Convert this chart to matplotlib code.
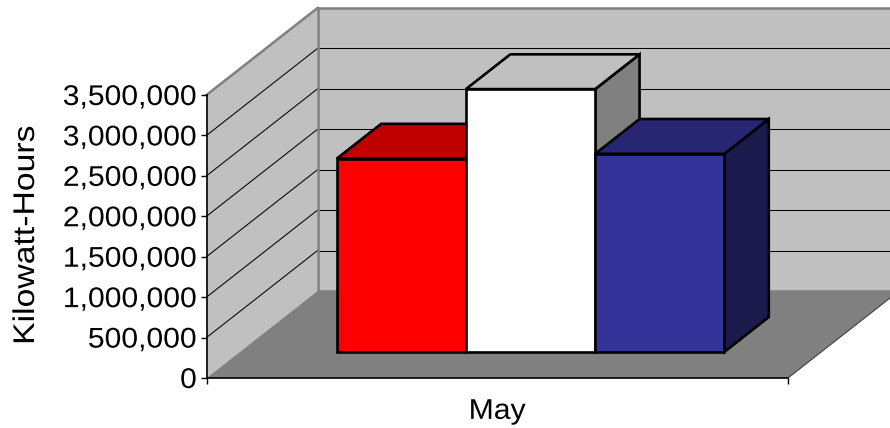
import matplotlib
matplotlib.use("Agg")
import matplotlib.pyplot as plt
from matplotlib.patches import Polygon
from matplotlib.patheffects import AbstractPathEffect
from matplotlib.ticker import FuncFormatter
from matplotlib.transforms import Affine2D

# Monthly consumption, one cluster of three columns
category = "May"
series_values = [2390000, 3250000, 2450000]
front_colors = ["#FF0000", "#FFFFFF", "#333399"]
top_colors = ["#BF0000", "#C0C0C0", "#262673"]
side_colors = ["#800000", "#808080", "#1A1A4D"]
value_ticks = [0, 500000, 1000000, 1500000, 2000000, 2500000, 3000000, 3500000]
value_label = "Kilowatt-Hours"

W, H = 890, 428
AX_L, AX_R, AX_T, AX_B = 206.5, 788.0, 95.0, 378.0
DEPTH_PX = (111.0, 87.0)
VMAX = value_ticks[-1]
GAP = 1.5
BAR_DEPTH = (0.3, 0.7)


class WideText(AbstractPathEffect):
    """Widen glyph runs along the baseline about a chosen anchor."""

    def __init__(self, factor, anchor):
        super().__init__()
        self.factor = factor
        self.anchor = anchor

    def draw_path(self, renderer, gc, tpath, affine, rgbFace=None):
        xs = tpath.vertices[:, 0]
        x0 = xs.min() + self.anchor * (xs.max() - xs.min())
        widen = Affine2D().translate(-x0, 0).scale(self.factor, 1).translate(x0, 0)
        renderer.draw_path(gc, tpath, widen + affine, rgbFace)


plt.rcParams["font.family"] = ["Liberation Sans", "DejaVu Sans"]
fig = plt.figure(figsize=(W / 100, H / 100), dpi=100)
ax = fig.add_axes([AX_L / W, 1 - AX_B / H, (AX_R - AX_L) / W, (AX_B - AX_T) / H])
ax.set_xlim(0, 1)
ax.set_ylim(0, VMAX)
ax.patch.set_visible(False)

dx = DEPTH_PX[0] / (AX_R - AX_L)
dv = DEPTH_PX[1] / (AX_B - AX_T) * VMAX


def pt(x, v, d):
    """Oblique projection of (x, value, depth) on to the axes plane."""
    return (x + d * dx, v + d * dv)


def face(points, color, edge="none", lw=0.0, z=1.0):
    ax.add_patch(Polygon([pt(*p) for p in points], closed=True, facecolor=color,
                         edgecolor=edge, linewidth=lw, joinstyle="miter",
                         clip_on=False, zorder=z))


def line(a, b, color, lw, z=1.5):
    p, q = pt(*a), pt(*b)
    ax.plot([p[0], q[0]], [p[1], q[1]], color=color, lw=lw, clip_on=False,
            zorder=z, solid_capstyle="projecting")


# Chart box: floor, side wall and back wall
face([(0, 0, 0), (0, 0, 1), (0, VMAX, 1), (0, VMAX, 0)], "#C0C0C0")
face([(0, 0, 1), (1, 0, 1), (1, VMAX, 1), (0, VMAX, 1)], "#C0C0C0")
face([(0, 0, 0), (1, 0, 0), (1, 0, 1), (0, 0, 1)], "#808080")

# Gridlines wrap from the front edge of the side wall along the back wall
for v in value_ticks[1:-1]:
    line((0, v, 0), (0, v, 1), "#000000", 0.75)
    line((0, v, 1), (1, v, 1), "#000000", 0.75)

# Wall outlines
line((0, VMAX, 0), (0, VMAX, 1), "#808080", 1.8)
line((0, VMAX, 1), (1, VMAX, 1), "#808080", 1.8)
line((0, 0, 1), (0, VMAX, 1), "#808080", 1.8)
line((0, 0, 1), (1, 0, 1), "#808080", 1.2)
line((1, 0, 0), (1, 0, 1), "#404040", 0.8)

# Columns, left to right so that later ones overlap earlier ones
bar_w = 1 / (len(series_values) + GAP)
d0, d1 = BAR_DEPTH
for i, v in enumerate(series_values):
    x0 = (GAP / 2 + i) * bar_w
    x1 = x0 + bar_w
    kw = dict(edge="#000000", lw=1.9, z=3 + i)
    face([(x1, 0, d0), (x1, 0, d1), (x1, v, d1), (x1, v, d0)], side_colors[i], **kw)
    face([(x0, v, d0), (x1, v, d0), (x1, v, d1), (x0, v, d1)], top_colors[i], **kw)
    face([(x0, 0, d0), (x1, 0, d0), (x1, v, d0), (x0, v, d0)], front_colors[i], **kw)

# Axes furniture
for s in ("top", "right"):
    ax.spines[s].set_visible(False)
for s in ("left", "bottom"):
    ax.spines[s].set_linewidth(1.2)
    ax.spines[s].set_zorder(10)

ax.set_yticks(value_ticks)
ax.yaxis.set_major_formatter(FuncFormatter(lambda v, _: f"{int(v):,}"))
ax.tick_params(axis="y", length=4.5, width=1.0, pad=2.5, labelsize=20.5, labelcolor="#000000")
ax.set_xticks([0, 1])
ax.set_xticklabels(["", ""])
ax.tick_params(axis="x", which="major", length=4.5, width=1.0)
ax.set_xticks([0.5], labels=[category], minor=True)
ax.tick_params(axis="x", which="minor", length=0, pad=15, labelsize=20.5)

for lab in ax.get_yticklabels():
    lab.set_path_effects([WideText(1.057, 1.0)])
for lab in ax.get_xticklabels(minor=True):
    lab.set_path_effects([WideText(1.059, 0.5)])

fig.text(26 / W, 1 - 235 / H, value_label, rotation=90, ha="center", va="center",
         fontsize=21.5, path_effects=[WideText(1.13, 0.5)])

fig.savefig("out.png", dpi=100, facecolor="white")
